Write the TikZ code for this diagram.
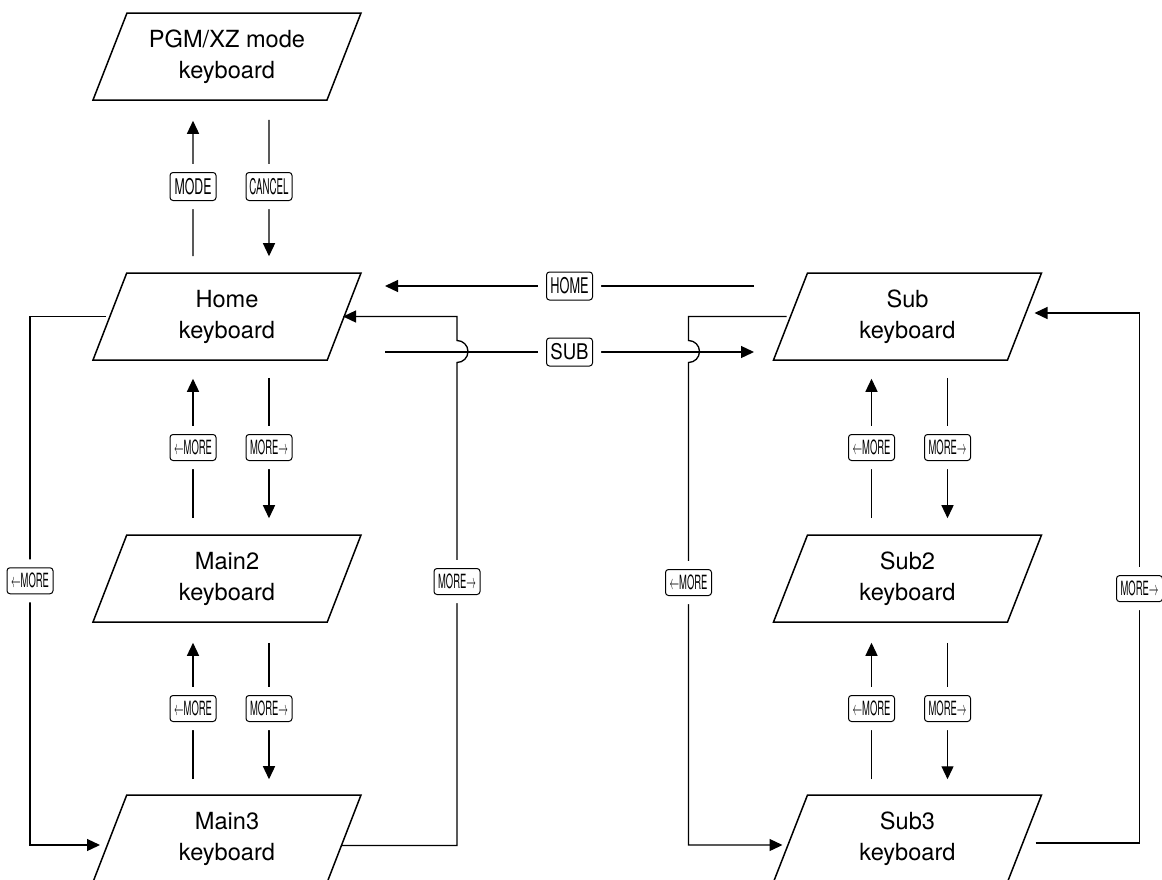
\documentclass[tikz,border=0pt]{standalone}
\usepackage{fontspec}
\setmainfont{TeX Gyre Heros}
\usepackage{graphicx}
\usetikzlibrary{positioning,arrows.meta,shapes.geometric}

\newcommand{\keycap}[2]{\scalebox{#1}[1]{#2}}
\newcommand{\lmore}{\keycap{0.48}{$\leftarrow$MORE}}
\newcommand{\rmore}{\keycap{0.48}{MORE$\rightarrow$}}

\begin{document}
\begin{tikzpicture}[
    every node/.style={font=\fontsize{11.8}{15.5}\selectfont},
    kbd/.style={trapezium, trapezium left angle=57.7, trapezium right angle=122.3,
                trapezium stretches body, draw, line width=0.75pt, on grid,
                minimum width=134pt, minimum height=43.5pt, inner sep=0pt, align=center},
    key/.style={draw, rounded corners=1.5pt, line width=0.5pt, fill=white,
                preaction={draw=white, line width=8.5pt},
                minimum width=23pt, minimum height=14pt, inner sep=0pt,
                font=\fontsize{10.8}{12}\selectfont},
    skey/.style={key, minimum height=13pt, font=\fontsize{9.8}{11}\selectfont},
    arr/.style={-{Triangle[length=6.5pt,width=6pt]}, line width=0.65pt},
]
    \useasboundingbox (0,0) rectangle (581pt,-439.5pt);
    \clip (0,0) rectangle (581pt,-439.5pt);

    %% keyboards
    \node[kbd] (pgm) at (113.5pt,-28.25pt) {PGM/XZ mode\\keyboard};
    \node[kbd, below=130pt of pgm] (home) {Home\\keyboard};
    \node[kbd, below=131pt of home] (main2) {Main2\\keyboard};
    \node[kbd, below=130pt of main2] (main3) {Main3\\keyboard};
    \node[kbd, right=340.25pt of home] (sub) {Sub\\keyboard};
    \node[kbd, below=131pt of sub] (sub2) {Sub2\\keyboard};
    \node[kbd, below=130pt of sub2] (sub3) {Sub3\\keyboard};

    %% up / down keys, left column
    \draw[arr, shorten <=8pt, shorten >=10pt] ([xshift=-17pt]home.north)
        -- node[key]{\keycap{0.57}{MODE}} ([xshift=-17pt]pgm.south);
    \draw[arr, shorten <=9.5pt, shorten >=8pt] ([xshift=21pt]pgm.south)
        -- node[key]{\keycap{0.45}{CANCEL}} ([xshift=21pt]home.north);
    \draw[arr, shorten <=8pt, shorten >=9pt] ([xshift=-17pt]main2.north)
        -- node[skey]{\lmore} ([xshift=-17pt]home.south);
    \draw[arr, shorten <=8.5pt, shorten >=8pt] ([xshift=21pt]home.south)
        -- node[skey]{\rmore} ([xshift=21pt]main2.north);
    \draw[arr, shorten <=7.5pt, shorten >=10pt] ([xshift=-17pt]main3.north)
        -- node[skey]{\lmore} ([xshift=-17pt]main2.south);
    \draw[arr, shorten <=10pt, shorten >=7.5pt] ([xshift=21pt]main2.south)
        -- node[skey]{\rmore} ([xshift=21pt]main3.north);

    %% up / down keys, right column
    \draw[arr, shorten <=8pt, shorten >=9pt] ([xshift=-18pt]sub2.north)
        -- node[skey]{\lmore} ([xshift=-18pt]sub.south);
    \draw[arr, shorten <=8.5pt, shorten >=8pt] ([xshift=20pt]sub.south)
        -- node[skey]{\rmore} ([xshift=20pt]sub2.north);
    \draw[arr, shorten <=7.5pt, shorten >=10pt] ([xshift=-18pt]sub3.north)
        -- node[skey]{\lmore} ([xshift=-18pt]sub2.south);
    \draw[arr, shorten <=10pt, shorten >=7.5pt] ([xshift=20pt]sub2.south)
        -- node[skey]{\rmore} ([xshift=20pt]sub3.north);

    %% HOME and SUB between the columns
    \draw[arr] ([xshift=-76.75pt,yshift=15.25pt]sub.center)
        -- node[key]{\keycap{0.59}{HOME}} ([xshift=79pt,yshift=15.25pt]home.center);
    \draw[arr] ([xshift=79pt,yshift=-17.75pt]home.center)
        -- node[key]{\keycap{0.86}{SUB}} ([xshift=-76.75pt,yshift=-17.75pt]sub.center);

    %% outer loops, main side
    \draw[arr] ([xshift=-60.5pt]home.center) -- ++(-38pt,0)
        |- node[skey, pos=0.25]{\lmore} ([xshift=-63.5pt,yshift=-3.25pt]main3.center);
    \draw[arr] ([xshift=57pt,yshift=-3.5pt]main3.center) -- ++(58pt,0)
        -- ++(0,132pt) node[skey]{\rmore} -- ++(0,109.5pt)
        arc[start angle=-90, end angle=90, radius=5.5pt]
        |- ([xshift=58pt]home.center);

    %% outer loops, sub side
    \draw[arr] ([xshift=-60.5pt]sub.center) -- ++(-49pt,0) -- ++(0,-12pt)
        arc[start angle=90, end angle=-90, radius=5.5pt]
        -- ++(0,-110pt) node[skey]{\lmore}
        |- ([xshift=-62.5pt,yshift=-3.25pt]sub3.center);
    \draw[arr] ([xshift=64pt,yshift=-2.25pt]sub3.center) -- ++(52pt,0)
        |- node[skey, pos=0.24]{\rmore} ([xshift=63.5pt,yshift=1.75pt]sub.center);
\end{tikzpicture}
\end{document}
